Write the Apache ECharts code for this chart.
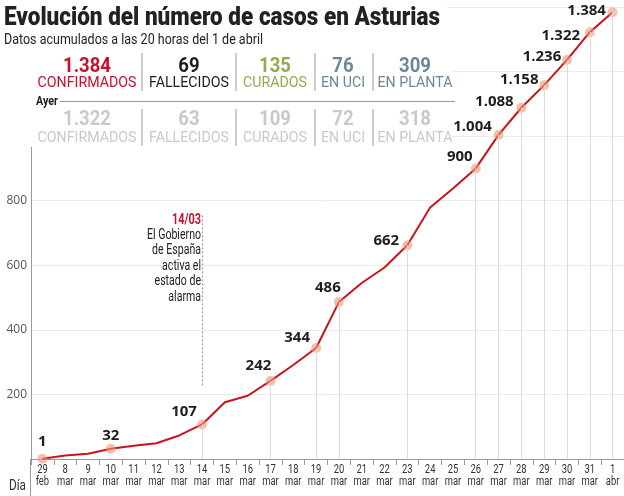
<!DOCTYPE html>
<html><head><meta charset="utf-8">
<script src="https://cdn.jsdelivr.net/npm/echarts@6/dist/echarts.min.js"></script>
<style>html,body{margin:0;padding:0;background:#fff}#c{width:624px;height:496px}</style>
</head><body><div id="c"></div>
<script>
const days   = ['29','8','9','10','11','12','13','14','15','16','17','18','19','20','21','22','23','24','25','26','27','28','29','30','31','1'];
const months = ['feb','mar','mar','mar','mar','mar','mar','mar','mar','mar','mar','mar','mar','mar','mar','mar','mar','mar','mar','mar','mar','mar','mar','mar','mar','abr'];
const casos  = [1, 11, 16, 32, 41, 49, 73, 107, 176, 196, 242, 291, 344, 486, 545, 593, 662, 779, 838, 900, 1004, 1088, 1158, 1236, 1322, 1384];
const yTicks = [200, 400, 600, 800];
const statLabels = ['CONFIRMADOS','FALLECIDOS','CURADOS','EN UCI','EN PLANTA'];
const statHoy    = ['1.384','69','135','76','309'];
const statAyer   = ['1.322','63','109','72','318'];
const alarmaIdx  = 7;
const alarmaTitulo = '14/03';
const alarmaTexto  = ['El Gobierno','de España','activa el','estado de','alarma'];
const titulo = 'Evolución del número de casos en Asturias';
const subtitulo = 'Datos acumulados a las 20 horas del 1 de abril';

const categories = days.map((d,i)=>d+' '+months[i]);
const fmt = v => v >= 1000 ? Math.floor(v/1000)+'.'+String(v%1000).padStart(3,'0') : String(v);

// ---- presentation ----
const labelOffsets = {0:[0,-17],3:[0,-13],7:[-18,-13],10:[-12,-15],12:[-19,-10],13:[-11,-14],16:[-21,-5],19:[-16,-12],20:[-26,-8],21:[-27,-6],22:[-25,-5],23:[-25,-3],24:[-29,4],25:[-26,-1]};
const stubLines = [7,10,12,13,16,19,20,21,22,23,24,25];
const YMAX = 1400;
const FONT = 'Roboto';
const RED = '#c8102e', GREEN='#8fad4f', BLUE='#6c8798', DARK='#1e1e1e', GRAY='#c9c9c9';

const mctx = document.createElement('canvas').getContext('2d');
function fitScale(text, font, w){ mctx.font = font; return w / mctx.measureText(text).width; }

const lineData = casos.map((v,i)=>{
  const off = labelOffsets[i];
  if(!off) return {value:v, symbolSize:0, label:{show:false}};
  return {value:v, symbolSize:10, label:{show:true, position:'inside', offset:off, formatter:fmt(v)}};
});

const vLines = [];
stubLines.forEach(i=>vLines.push([{coord:[i,0]},{coord:[i,casos[i]]}]));
vLines.push([{coord:[alarmaIdx,228],lineStyle:{color:'#9a9a9a',type:[2,2],width:1.2}},{coord:[alarmaIdx,760]}]);

const chart = echarts.init(document.getElementById('c'), null, {renderer:'canvas'});
chart.setOption({
  animation:false,
  backgroundColor:'#fff',
  grid:{left:31, right:-5, top:7, bottom:37, containLabel:false},
  xAxis:{
    type:'category', data:categories, boundaryGap:true,
    axisLine:{lineStyle:{color:'#999'}},
    axisTick:{show:true, interval:0, length:6, lineStyle:{color:'#999'}},
    axisLabel:{show:false},
    splitLine:{show:false}
  },
  yAxis:{
    type:'value', min:0, max:YMAX, interval:200,
    axisLine:{show:true, lineStyle:{color:'#999'}},
    axisTick:{show:false},
    axisLabel:{color:'#555', fontFamily:'"Open Sans", sans-serif', fontSize:12, margin:4,
      formatter:v=> yTicks.indexOf(v)>=0 ? String(v) : ''},
    splitLine:{lineStyle:{color:'#ececec'}}
  },
  series:[
    {type:'line', data:[], z:1, silent:true,
     markLine:{silent:true, symbol:'none', label:{show:false},
       lineStyle:{color:'#dcdcdc', width:1, type:'solid'}, data:vLines}},
    {type:'line', data:lineData, z:3, symbol:'circle',
     lineStyle:{color:'#c4161c', width:2},
     itemStyle:{color:'rgba(242,150,120,0.6)', borderWidth:0},
     label:{color:'#1e1e1e', fontFamily:'"Open Sans", sans-serif', fontWeight:'bold', fontSize:15}}
  ]
});

// ---- graphic layer ----
const g = [];
function txt(text, x, y, font, fill, align, scale, z){
  g.push({type:'text', x:x, y:y, scaleX:scale, z:z||101,
    style:{text:text, fill:fill, font:font, textAlign:align||'left', textVerticalAlign:'middle'}});
}
// title block
g.push({type:'rect', shape:{x:0,y:0,width:447,height:51}, style:{fill:'#fff'}, z:100});
const fT = '900 26px '+FONT;
txt(titulo, 4, 18, fT, '#222', 'left', fitScale(titulo, fT, 436));
const fS = '15px '+FONT;
txt(subtitulo, 4, 40, fS, '#222', 'left', fitScale(subtitulo, fS, 259));

// stats panel
g.push({type:'rect', shape:{x:31,y:51,width:421,height:96}, style:{fill:'#fff'}, z:100});
const cx = [87,189,275,343,415];
const seps = [142,236,315,373];
const colors = [RED,DARK,GREEN,BLUE,BLUE];
const fV = 'bold 21px '+FONT, fL = '15.5px '+FONT;
const sV = fitScale('1.384', fV, 48), sL = fitScale('CONFIRMADOS', fL, 99);
statLabels.forEach((lab,i)=>{
  txt(statHoy[i], cx[i], 67, fV, colors[i], 'center', sV);
  txt(lab, cx[i], 83, fL, colors[i], 'center', sL);
  txt(statAyer[i], cx[i], 120, fV, GRAY, 'center', sV);
  txt(lab, cx[i], 138, fL, GRAY, 'center', sL);
});
seps.forEach(x=>{
  g.push({type:'line', shape:{x1:x,y1:53,x2:x,y2:91}, style:{stroke:'#999',lineWidth:1}, z:101});
  g.push({type:'line', shape:{x1:x,y1:109,x2:x,y2:146}, style:{stroke:'#999',lineWidth:1}, z:101});
});
const fA = 'bold 12.5px '+FONT;
txt('Ayer', 36, 102, fA, DARK, 'left', fitScale('Ayer', fA, 22));
g.push({type:'line', shape:{x1:60,y1:101.5,x2:455,y2:101.5}, style:{stroke:'#999',lineWidth:1}, z:101});

// annotation
const fN = '14px '+FONT, fNb = 'bold 14px '+FONT;
const sN = fitScale('El Gobierno', fN, 54);
txt(alarmaTitulo, 201, 220, fNb, RED, 'right', fitScale(alarmaTitulo, fNb, 29));
alarmaTexto.forEach((t,k)=> txt(t, 201, 235.5+k*15.4, fN, '#222', 'right', sN));

// x-axis labels (placed through the axis scale)
const fX = '12.5px '+FONT;
const sX = fitScale('mar', fX, 16.5);
days.forEach((d,i)=>{
  const px = chart.convertToPixel({xAxisIndex:0}, i);
  txt(d, px, 469.5, fX, '#333', 'center', sX);
  txt(months[i], px, 482, fX, '#333', 'center', sX);
});
const fD = '14px '+FONT;
txt('Día', 9, 486, fD, '#333', 'left', fitScale('Día', fD, 17));
g.push({type:'line', shape:{x1:30.5,y1:459,x2:30.5,y2:496}, style:{stroke:'#999',lineWidth:1}, z:101});

chart.setOption({graphic:g});
</script></body></html>
